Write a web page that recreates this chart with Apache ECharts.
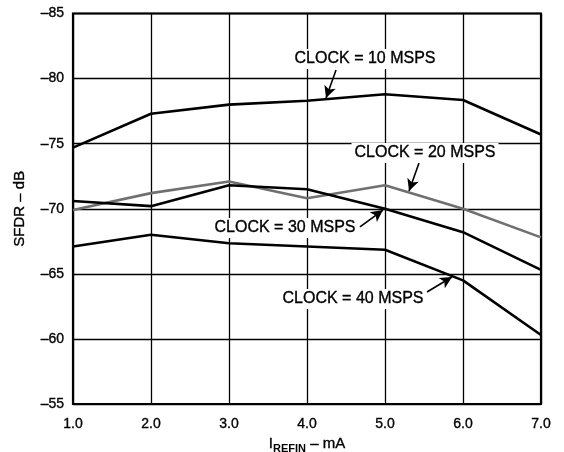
<!DOCTYPE html>
<html><head><meta charset="utf-8">
<script src="https://cdn.jsdelivr.net/npm/echarts@6/dist/echarts.min.js"></script>
<style>html,body{margin:0;padding:0;background:#fff}#c{width:564px;height:452px}</style>
</head><body><div id="c"></div>
<script>
var xValues = [1.0, 2.0, 3.0, 4.0, 5.0, 6.0, 7.0];
var clock10 = [-74.7, -77.3, -78.0, -78.3, -78.8, -78.35, -75.7];
var clock20 = [-69.9, -71.2, -72.1, -70.8, -71.8, -70.0, -67.8];
var clock30 = [-70.6, -70.2, -71.8, -71.5, -70.0, -68.2, -65.3];
var clock40 = [-67.1, -68.0, -67.35, -67.1, -66.85, -64.5, -60.3];
var seriesNames = ['CLOCK = 10 MSPS', 'CLOCK = 20 MSPS', 'CLOCK = 30 MSPS', 'CLOCK = 40 MSPS'];
var labelPos = [[4.744, -81.5], [5.513, -74.28], [3.718, -68.52], [4.59, -63.07]];
var arrowFrom = [[4.372, -80.66], [5.436, -73.52], [4.679, -68.6], [5.538, -63.6]];
var arrowTo = [[4.244, -78.51], [5.308, -71.36], [4.974, -69.9], [5.859, -64.76]];
var xTicks = ['1.0','2.0','3.0','4.0','5.0','6.0','7.0'];

var FONT = '"Liberation Sans", Arial, sans-serif';
var colors = ['#000', '#707070', '#000', '#000'];
var allData = [clock10, clock20, clock30, clock40];
var thick = { textBorderColor: '#000', textBorderWidth: 0.35 };

var series = allData.map(function (d, i) {
  return {
    type: 'line',
    name: seriesNames[i],
    data: xValues.map(function (x, j) { return [x, d[j]]; }),
    symbol: 'none',
    lineStyle: { color: colors[i], width: 2.6 },
    z: i === 1 ? 3 : 4,
    animation: false,
    markLine: {
      silent: true,
      symbol: ['none', 'arrow'],
      symbolSize: [9, 12],
      lineStyle: { color: '#000', width: 1.6, type: 'solid' },
      label: { show: false },
      data: [[{ coord: arrowFrom[i] }, { coord: arrowTo[i] }]],
      animation: false
    },
    markPoint: {
      silent: true,
      symbol: 'rect',
      symbolSize: 1,
      itemStyle: { color: 'rgba(0,0,0,0)' },
      label: Object.assign({
        show: true, position: 'inside', formatter: seriesNames[i],
        color: '#000', fontFamily: FONT, fontSize: 16,
        backgroundColor: '#fff', padding: [2, 3]
      }, thick),
      data: [{ coord: labelPos[i] }],
      animation: false
    }
  };
});

var chart = echarts.init(document.getElementById('c'));
chart.setOption({
  animation: false,
  backgroundColor: '#fff',
  grid: { left: 73, right: 23, top: 13.5, bottom: 48, containLabel: false, outerBoundsMode: 'none',
    show: true, borderColor: '#000', borderWidth: 2.2, backgroundColor: 'transparent' },
  xAxis: {
    type: 'value', min: 1, max: 7, interval: 1,
    axisLine: { show: false }, axisTick: { show: false },
    splitLine: { show: true, lineStyle: { color: '#000', width: 1.3 } },
    axisLabel: Object.assign({ color: '#000', fontFamily: FONT, fontSize: 14, margin: 13,
      formatter: function (v) { return xTicks[Math.round(v - 1)]; } }, thick),
    name: '{i|I}{sub|REFIN}{i| – mA}',
    nameLocation: 'middle', nameGap: 23,
    nameTextStyle: {
      rich: {
        i: Object.assign({ fontFamily: FONT, fontSize: 15, color: '#000' }, thick),
        sub: { fontFamily: FONT, fontSize: 11, fontWeight: 'bold', color: '#000', padding: [10, 0, 0, 0] }
      }
    }
  },
  yAxis: {
    type: 'value', min: -85, max: -55, interval: 5, inverse: true,
    axisLine: { show: false }, axisTick: { show: false },
    splitLine: { show: true, lineStyle: { color: '#000', width: 1.3 } },
    axisLabel: Object.assign({ color: '#000', fontFamily: FONT, fontSize: 14, margin: 9, padding: [6, 0, 0, 0],
      formatter: function (v) { return String(v).replace('-', '–'); } }, thick),
    name: 'SFDR – dB', nameLocation: 'middle', nameGap: 46,
    nameTextStyle: Object.assign({ color: '#000', fontFamily: FONT, fontSize: 15 }, thick)
  },
  series: series
});
</script></body></html>
